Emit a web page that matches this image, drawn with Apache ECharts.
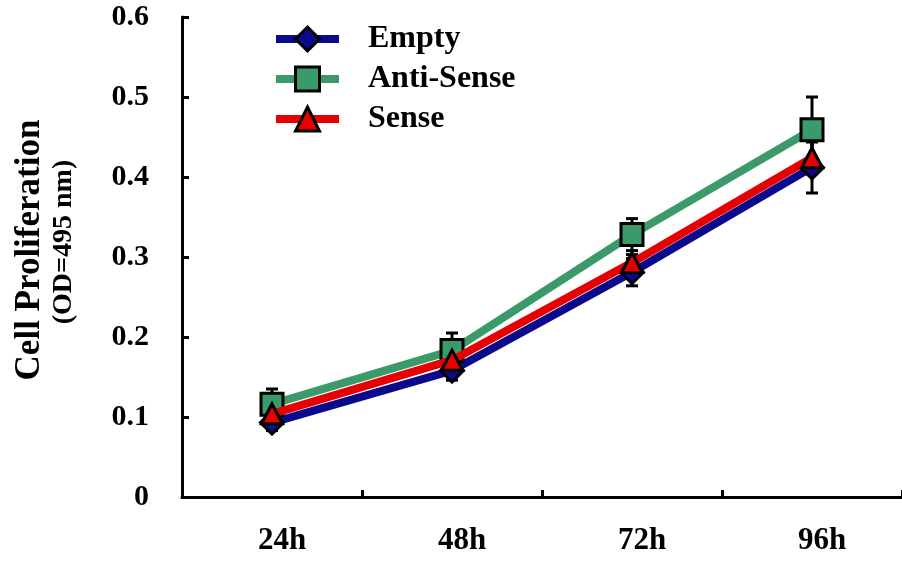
<!DOCTYPE html>
<html>
<head>
<meta charset="utf-8">
<script src="https://cdn.jsdelivr.net/npm/echarts@6/dist/echarts.min.js"></script>
<style>
html,body{margin:0;padding:0;background:#fff;}
#main{width:902px;height:564px;}
</style>
</head>
<body>
<div id="main"></div>
<script>
var categories = ['24h', '48h', '72h', '96h'];
var seriesNames = ['Empty', 'Anti-Sense', 'Sense'];
var emptyVals = [0.093, 0.158, 0.281, 0.412];
var antiSenseVals = [0.116, 0.183, 0.328, 0.459];
var senseVals = [0.104, 0.171, 0.293, 0.424];
var emptyErr = [0.010, 0.012, 0.017, 0.032];
var antiSenseErr = [0.019, 0.022, 0.020, 0.041];
var senseErr = [0.008, 0.008, 0.010, 0.020];
var yTicks = [0, 0.1, 0.2, 0.3, 0.4, 0.5, 0.6];

var FONT = '"Liberation Serif", "Times New Roman", serif';
var colors = ['#0a0a8c', '#3a9a6a', '#e60000'];
var symbols = ['diamond', 'rect', 'triangle'];
var symbolSizes = [[23, 23], [22, 22], [21, 20]];
var vals = [emptyVals, antiSenseVals, senseVals];
var errs = [emptyErr, antiSenseErr, senseErr];

function errData(v, e) {
  return categories.map(function (c, i) { return [i, v[i], e[i]]; });
}

function renderErr(params, api) {
  var i = api.value(0), v = api.value(1), e = api.value(2);
  var top = api.coord([i, v + e]);
  var bot = api.coord([i, v - e]);
  var hw = 6;
  var st = { stroke: '#000', lineWidth: 3 };
  return {
    type: 'group',
    children: [
      { type: 'line', shape: { x1: top[0], y1: top[1], x2: bot[0], y2: bot[1] }, style: st },
      { type: 'line', shape: { x1: top[0] - hw, y1: top[1], x2: top[0] + hw, y2: top[1] }, style: st },
      { type: 'line', shape: { x1: bot[0] - hw, y1: bot[1], x2: bot[0] + hw, y2: bot[1] }, style: st }
    ]
  };
}

var series = [];
for (var k = 0; k < 3; k++) {
  series.push({
    type: 'custom',
    name: seriesNames[k] + ' err',
    renderItem: renderErr,
    data: errData(vals[k], errs[k]),
    z: 1,
    silent: true
  });
}
for (var k = 0; k < 3; k++) {
  series.push({
    type: 'line',
    name: seriesNames[k],
    data: vals[k],
    symbol: symbols[k],
    symbolSize: symbolSizes[k],
    showAllSymbol: true,
    z: 2 + k,
    lineStyle: { color: colors[k], width: 8 },
    itemStyle: { color: colors[k], borderColor: '#000', borderWidth: 3 },
    emphasis: { disabled: true },
    animation: false
  });
}

var chart = echarts.init(document.getElementById('main'), null, { renderer: 'canvas' });
chart.setOption({
  animation: false,
  backgroundColor: '#fff',
  grid: { left: 182, right: -8, top: 17, bottom: 67, containLabel: false },
  legend: {
    data: seriesNames,
    orient: 'vertical',
    left: 272,
    top: 23,
    padding: 0,
    itemWidth: 63,
    itemHeight: 30,
    itemGap: 8,
    textStyle: { fontFamily: FONT, fontWeight: 'bold', fontSize: 32, lineHeight: 30, color: '#000', padding: [0, 0, 0, 24] },
    lineStyle: { width: 8 },
    itemStyle: { borderWidth: 3, borderColor: '#000' },
    selectedMode: false
  },
  xAxis: {
    type: 'category',
    data: categories,
    boundaryGap: true,
    axisLine: { lineStyle: { color: '#000', width: 3 } },
    axisTick: { show: true, inside: true, length: 7, lineStyle: { color: '#000', width: 3 } },
    axisLabel: { margin: 28, padding: [0, 0, 0, 20], fontFamily: FONT, fontWeight: 'bold', fontSize: 31, color: '#000' },
    splitLine: { show: false }
  },
  yAxis: {
    type: 'value',
    min: yTicks[0],
    max: yTicks[yTicks.length - 1],
    interval: 0.1,
    axisLine: { show: true, lineStyle: { color: '#000', width: 3 } },
    axisTick: { show: true, inside: true, length: 7, lineStyle: { color: '#000', width: 3 } },
    axisLabel: {
      margin: 33, fontFamily: FONT, fontWeight: 'bold', fontSize: 30, color: '#000',
      formatter: function (v) { return v === 0 ? '0' : v.toFixed(1); }
    },
    splitLine: { show: false }
  },
  graphic: [
    {
      type: 'text', x: 30, y: 250, rotation: Math.PI / 2,
      style: { text: 'Cell Proliferation', font: 'bold 35px ' + FONT, fill: '#000', align: 'center', verticalAlign: 'middle' }
    },
    {
      type: 'text', x: 64, y: 242, rotation: Math.PI / 2,
      style: { text: '(OD=495 nm)', font: 'bold 28px ' + FONT, fill: '#000', align: 'center', verticalAlign: 'middle' }
    }
  ],
  series: series
});
</script>
</body>
</html>
